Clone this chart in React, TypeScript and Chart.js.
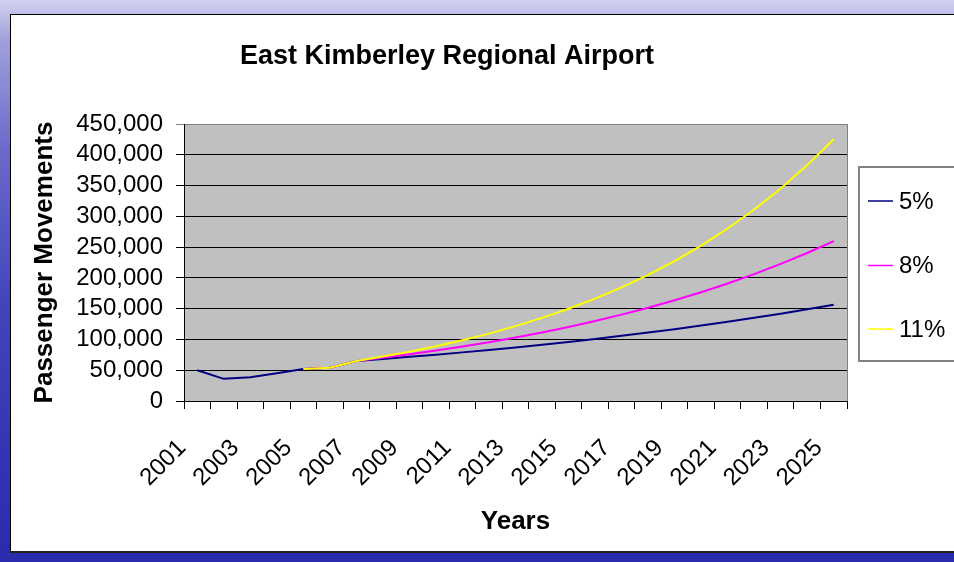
import React, { useEffect, useRef } from 'react';
import { Chart, registerables } from 'chart.js';

Chart.register(...registerables);

const years = [
  '2001', '2002', '2003', '2004', '2005', '2006', '2007', '2008', '2009', '2010',
  '2011', '2012', '2013', '2014', '2015', '2016', '2017', '2018', '2019', '2020',
  '2021', '2022', '2023', '2024', '2025',
];

const growth5 = [
  50000, 36000, 38500, 45000, 52000, 54000, 65000, 68300, 71700, 75200,
  79000, 83000, 87100, 91500, 96000, 100800, 105900, 111200, 116700, 122600,
  128700, 135100, 141900, 149000, 156400,
];

const growth8 = [
  null, null, null, null, 52000, 54000, 65000, 70200, 75800, 81900,
  88400, 95500, 103100, 111400, 120300, 129900, 140300, 151600, 163700, 176800,
  190900, 206200, 222700, 240500, 259700,
];

const growth11 = [
  null, null, null, null, 52000, 54000, 65000, 72200, 80100, 88900,
  98700, 109500, 121600, 135000, 149800, 166300, 184600, 204900, 227400, 252400,
  280200, 311000, 345200, 383200, 425300,
];

const seriesLabels = ['5%', '8%', '11%'];
const seriesColors = ['#000080', '#ff00ff', '#ffff00'];

const yMin = 0;
const yMax = 450000;
const yStep = 50000;

const titleText = 'East Kimberley Regional Airport';
const yTitle = 'Passenger Movements';
const xTitle = 'Years';

const FONT = "'Liberation Sans', Arial, sans-serif";

const decorPlugin = {
  id: 'decor',
  beforeDraw(chart: any) {
    const { ctx, chartArea } = chart;
    ctx.save();
    ctx.fillStyle = '#c0c0c0';
    ctx.fillRect(chartArea.left, chartArea.top, chartArea.right - chartArea.left, chartArea.bottom - chartArea.top);
    ctx.restore();
  },
  afterDatasetsDraw(chart: any) {
    const { ctx, chartArea } = chart;
    ctx.save();
    ctx.strokeStyle = '#808080';
    ctx.lineWidth = 1;
    ctx.beginPath();
    ctx.moveTo(chartArea.right + 0.5, chartArea.top);
    ctx.lineTo(chartArea.right + 0.5, chartArea.bottom);
    ctx.stroke();
    ctx.restore();
  },
  afterDraw(chart: any) {
    const { ctx, chartArea } = chart;
    ctx.save();
    ctx.fillStyle = '#000';
    // Title
    ctx.font = `bold 27px ${FONT}`;
    ctx.textAlign = 'center';
    ctx.textBaseline = 'alphabetic';
    ctx.fillText(titleText, 447, 64);
    // X title
    ctx.font = `bold 26px ${FONT}`;
    ctx.fillText(xTitle, (chartArea.left + chartArea.right) / 2, 529);
    // Y title
    ctx.save();
    ctx.translate(52, (chartArea.top + chartArea.bottom) / 2);
    ctx.rotate(-Math.PI / 2);
    ctx.fillText(yTitle, 0, 0);
    ctx.restore();

    // Legend
    const bx = 859, by = 167, bw = 110, bh = 194;
    ctx.fillStyle = '#ffffff';
    ctx.fillRect(bx, by, bw, bh);
    ctx.strokeStyle = '#808080';
    ctx.lineWidth = 2;
    ctx.strokeRect(bx, by, bw, bh);
    const rowsY = [201, 265.5, 329];
    chart.data.datasets.forEach((ds: any, i: number) => {
      const y = rowsY[i];
      ctx.strokeStyle = ds.borderColor;
      ctx.lineWidth = 1.5;
      ctx.beginPath();
      ctx.moveTo(868, y);
      ctx.lineTo(893, y);
      ctx.stroke();
      ctx.fillStyle = '#000';
      ctx.font = `24px ${FONT}`;
      ctx.textAlign = 'left';
      ctx.textBaseline = 'middle';
      ctx.fillText(ds.label, 899, y + 1);
    });
    ctx.restore();
  },
};

export default function App() {
  const canvasRef = useRef<HTMLCanvasElement | null>(null);

  useEffect(() => {
    if (!canvasRef.current) return;
    const chart = new Chart(canvasRef.current, {
      type: 'line',
      data: {
        labels: years,
        datasets: [
          { label: seriesLabels[0], data: growth5, borderColor: seriesColors[0], backgroundColor: seriesColors[0], borderWidth: 2, pointRadius: 0, tension: 0, order: 3 },
          { label: seriesLabels[1], data: growth8, borderColor: seriesColors[1], backgroundColor: seriesColors[1], borderWidth: 2, pointRadius: 0, tension: 0, order: 2 },
          { label: seriesLabels[2], data: growth11, borderColor: seriesColors[2], backgroundColor: seriesColors[2], borderWidth: 2, pointRadius: 0, tension: 0, order: 1 },
        ],
      },
      options: {
        animation: false,
        responsive: false,
        events: [],
        layout: { padding: { left: 0, right: 107, top: 124, bottom: 0 } },
        plugins: {
          legend: { display: false },
          title: { display: false },
          tooltip: { enabled: false },
        },
        scales: {
          x: {
            type: 'category',
            offset: true,
            grid: { offset: true, drawOnChartArea: false, tickLength: 8, color: '#000', lineWidth: 1 },
            border: { color: '#000', width: 1 },
            ticks: {
              autoSkip: false,
              maxRotation: 45,
              minRotation: 45,
              padding: 25,
              labelOffset: -15,
              color: '#000',
              font: { family: FONT, size: 24 },
              callback: (_v: any, i: number) => (i % 2 === 0 ? years[i] : ''),
            },
            afterFit: (s: any) => { s.height = 161; },
          },
          y: {
            min: yMin,
            max: yMax,
            ticks: {
              stepSize: yStep,
              autoSkip: false,
              padding: 13,
              color: '#000',
              font: { family: FONT, size: 24 },
              callback: (v: any) => Number(v).toLocaleString('en-US'),
            },
            grid: {
              color: (c: any) => (c.tick && c.tick.value === yMax ? '#808080' : '#000'),
              tickLength: 8,
              lineWidth: 1,
            },
            border: { color: '#000', width: 1 },
            afterFit: (s: any) => { s.width = 184; },
          },
        },
      },
      plugins: [decorPlugin],
    } as any);
    return () => chart.destroy();
  }, []);

  return (
    <div
      style={{
        position: 'fixed',
        left: 0,
        top: 0,
        width: 954,
        height: 562,
        overflow: 'hidden',
        background: 'linear-gradient(to bottom, #d2d2f0 0px, #a0a0dc 40px, #6a6acb 150px, #4444ba 300px, #2a2aae 562px)',
      }}
    >
      <div
        style={{
          position: 'absolute',
          left: 10,
          top: 14,
          width: 960,
          height: 536,
          background: '#ffffff',
          borderTop: '1px solid #000',
          borderLeft: '1px solid #000',
          borderBottom: '2px solid #222',
        }}
      />
      <canvas
        ref={canvasRef}
        width={954}
        height={562}
        style={{ position: 'absolute', left: 0, top: 0, width: 954, height: 562 }}
      />
    </div>
  );
}
